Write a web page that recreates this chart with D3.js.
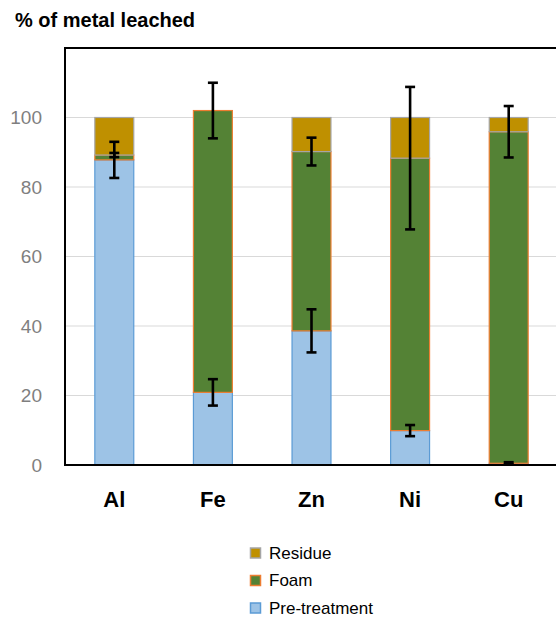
<!DOCTYPE html>
<html>
<head>
<meta charset="utf-8">
<script src="https://cdn.jsdelivr.net/npm/d3@7"></script>
<style>
  html, body { margin: 0; padding: 0; background: #fff; }
  svg { display: block; }
</style>
</head>
<body>
<svg id="chart" width="556" height="618"></svg>
<script>
// Metals and the share of each leached at every stage (%)
const categories = ["Al", "Fe", "Zn", "Ni", "Cu"];
const pretreatment = [87.8, 20.9, 38.6, 9.9, 0.5];
const foam = [1.4, 81.1, 51.6, 78.4, 95.4];
const residue = [10.8, 0, 9.8, 11.7, 4.1];
// Error bar half-widths, drawn at the cumulative top of each segment
const pretreatmentErr = [5.2, 3.8, 6.2, 1.6, 0.3];
const foamErr = [0.6, 8.0, 4.0, 20.5, 7.4];
const yTicks = [0, 20, 40, 60, 80, 100];

const seriesKeys = ["pretreatment", "foam", "residue"];
const seriesNames = { pretreatment: "Pre-treatment", foam: "Foam", residue: "Residue" };
const fills = { pretreatment: "#9DC3E6", foam: "#548235", residue: "#BF9000" };
const strokes = { pretreatment: "#5B9BD5", foam: "#ED7D31", residue: "#A5A5A5" };

const rows = categories.map((c, i) => ({
  metal: c,
  pretreatment: pretreatment[i],
  foam: foam[i],
  residue: residue[i]
}));

const svg = d3.select("#chart");
const plotLeft = 65, plotRight = 558, plotTop = 48, plotBottom = 465;

const x = d3.scaleBand().domain(categories).range([plotLeft, plotRight]).paddingInner(0.595).paddingOuter(0.2975);
const y = d3.scaleLinear().domain([0, 120]).range([plotBottom, plotTop]);

// Horizontal gridlines
svg.append("g")
  .selectAll("line")
  .data(yTicks.filter(t => t > 0))
  .join("line")
  .attr("x1", plotLeft).attr("x2", 556)
  .attr("y1", d => y(d)).attr("y2", d => y(d))
  .attr("stroke", "#D9D9D9").attr("stroke-width", 1);

// Stacked bars
const stacked = d3.stack().keys(seriesKeys)(rows);
const barG = svg.append("g");
stacked.forEach(layer => {
  barG.append("g")
    .selectAll("rect")
    .data(layer.filter(d => d[1] - d[0] > 0))
    .join("rect")
    .attr("x", d => x(d.data.metal) + 0.5)
    .attr("width", x.bandwidth() - 1)
    .attr("y", d => y(d[1]))
    .attr("height", d => y(d[0]) - y(d[1]))
    .attr("fill", fills[layer.key])
    .attr("stroke", strokes[layer.key])
    .attr("stroke-width", 1.2);
});

// Error bars
const errData = [];
categories.forEach((c, i) => {
  errData.push({ metal: c, v: pretreatment[i], e: pretreatmentErr[i] });
  errData.push({ metal: c, v: pretreatment[i] + foam[i], e: foamErr[i] });
});
const capHalf = 5;
const errG = svg.append("g").attr("stroke", "#000").attr("stroke-width", 2.6);
errData.forEach(d => {
  const cx = x(d.metal) + x.bandwidth() / 2;
  errG.append("line")
    .attr("x1", cx).attr("x2", cx)
    .attr("y1", y(d.v + d.e)).attr("y2", y(d.v - d.e));
  [d.v + d.e, d.v - d.e].forEach(v => {
    errG.append("line")
      .attr("x1", cx - capHalf).attr("x2", cx + capHalf)
      .attr("y1", y(v)).attr("y2", y(v));
  });
});

// Frame: left axis, top border, baseline
svg.append("line").attr("x1", plotLeft).attr("x2", plotLeft).attr("y1", plotTop - 1).attr("y2", plotBottom + 1)
  .attr("stroke", "#000").attr("stroke-width", 2);
svg.append("line").attr("x1", plotLeft - 1).attr("x2", 556).attr("y1", plotTop).attr("y2", plotTop)
  .attr("stroke", "#000").attr("stroke-width", 2);
svg.append("line").attr("x1", plotLeft - 1).attr("x2", 556).attr("y1", plotBottom).attr("y2", plotBottom)
  .attr("stroke", "#000").attr("stroke-width", 2);

// Y axis labels
const yAxis = d3.axisLeft(y).tickValues(yTicks).tickSize(0).tickPadding(23);
const yG = svg.append("g").attr("transform", `translate(${plotLeft},0)`).call(yAxis);
yG.select(".domain").remove();
yG.selectAll("text")
  .attr("fill", "#7F7F7F")
  .style("font-family", "'Liberation Sans', Arial, sans-serif")
  .style("font-size", "19px");

// X axis labels
const xAxis = d3.axisBottom(x).tickSize(0).tickPadding(26);
const xG = svg.append("g").attr("transform", `translate(0,${plotBottom})`).call(xAxis);
xG.select(".domain").remove();
xG.selectAll("text")
  .attr("fill", "#000")
  .style("font-family", "'Liberation Sans', Arial, sans-serif")
  .style("font-size", "22px")
  .style("font-weight", "bold");

// Title
svg.append("text")
  .attr("x", 15).attr("y", 27)
  .attr("fill", "#000")
  .style("font-family", "'Liberation Sans', Arial, sans-serif")
  .style("font-size", "20px")
  .style("font-weight", "bold")
  .text("% of metal leached");

// Legend
const legendKeys = ["residue", "foam", "pretreatment"];
const legend = svg.append("g").attr("transform", "translate(250,0)");
legendKeys.forEach((k, i) => {
  const cy = 553 + i * 27.5;
  legend.append("rect")
    .attr("x", 0.5).attr("y", cy - 5)
    .attr("width", 10).attr("height", 10)
    .attr("fill", fills[k]).attr("stroke", strokes[k]).attr("stroke-width", 1.5);
  legend.append("text")
    .attr("x", 19).attr("y", cy)
    .attr("dy", "0.35em")
    .attr("fill", "#000")
    .style("font-family", "'Liberation Sans', Arial, sans-serif")
    .style("font-size", "17px")
    .text(seriesNames[k]);
});
</script>
</body>
</html>
